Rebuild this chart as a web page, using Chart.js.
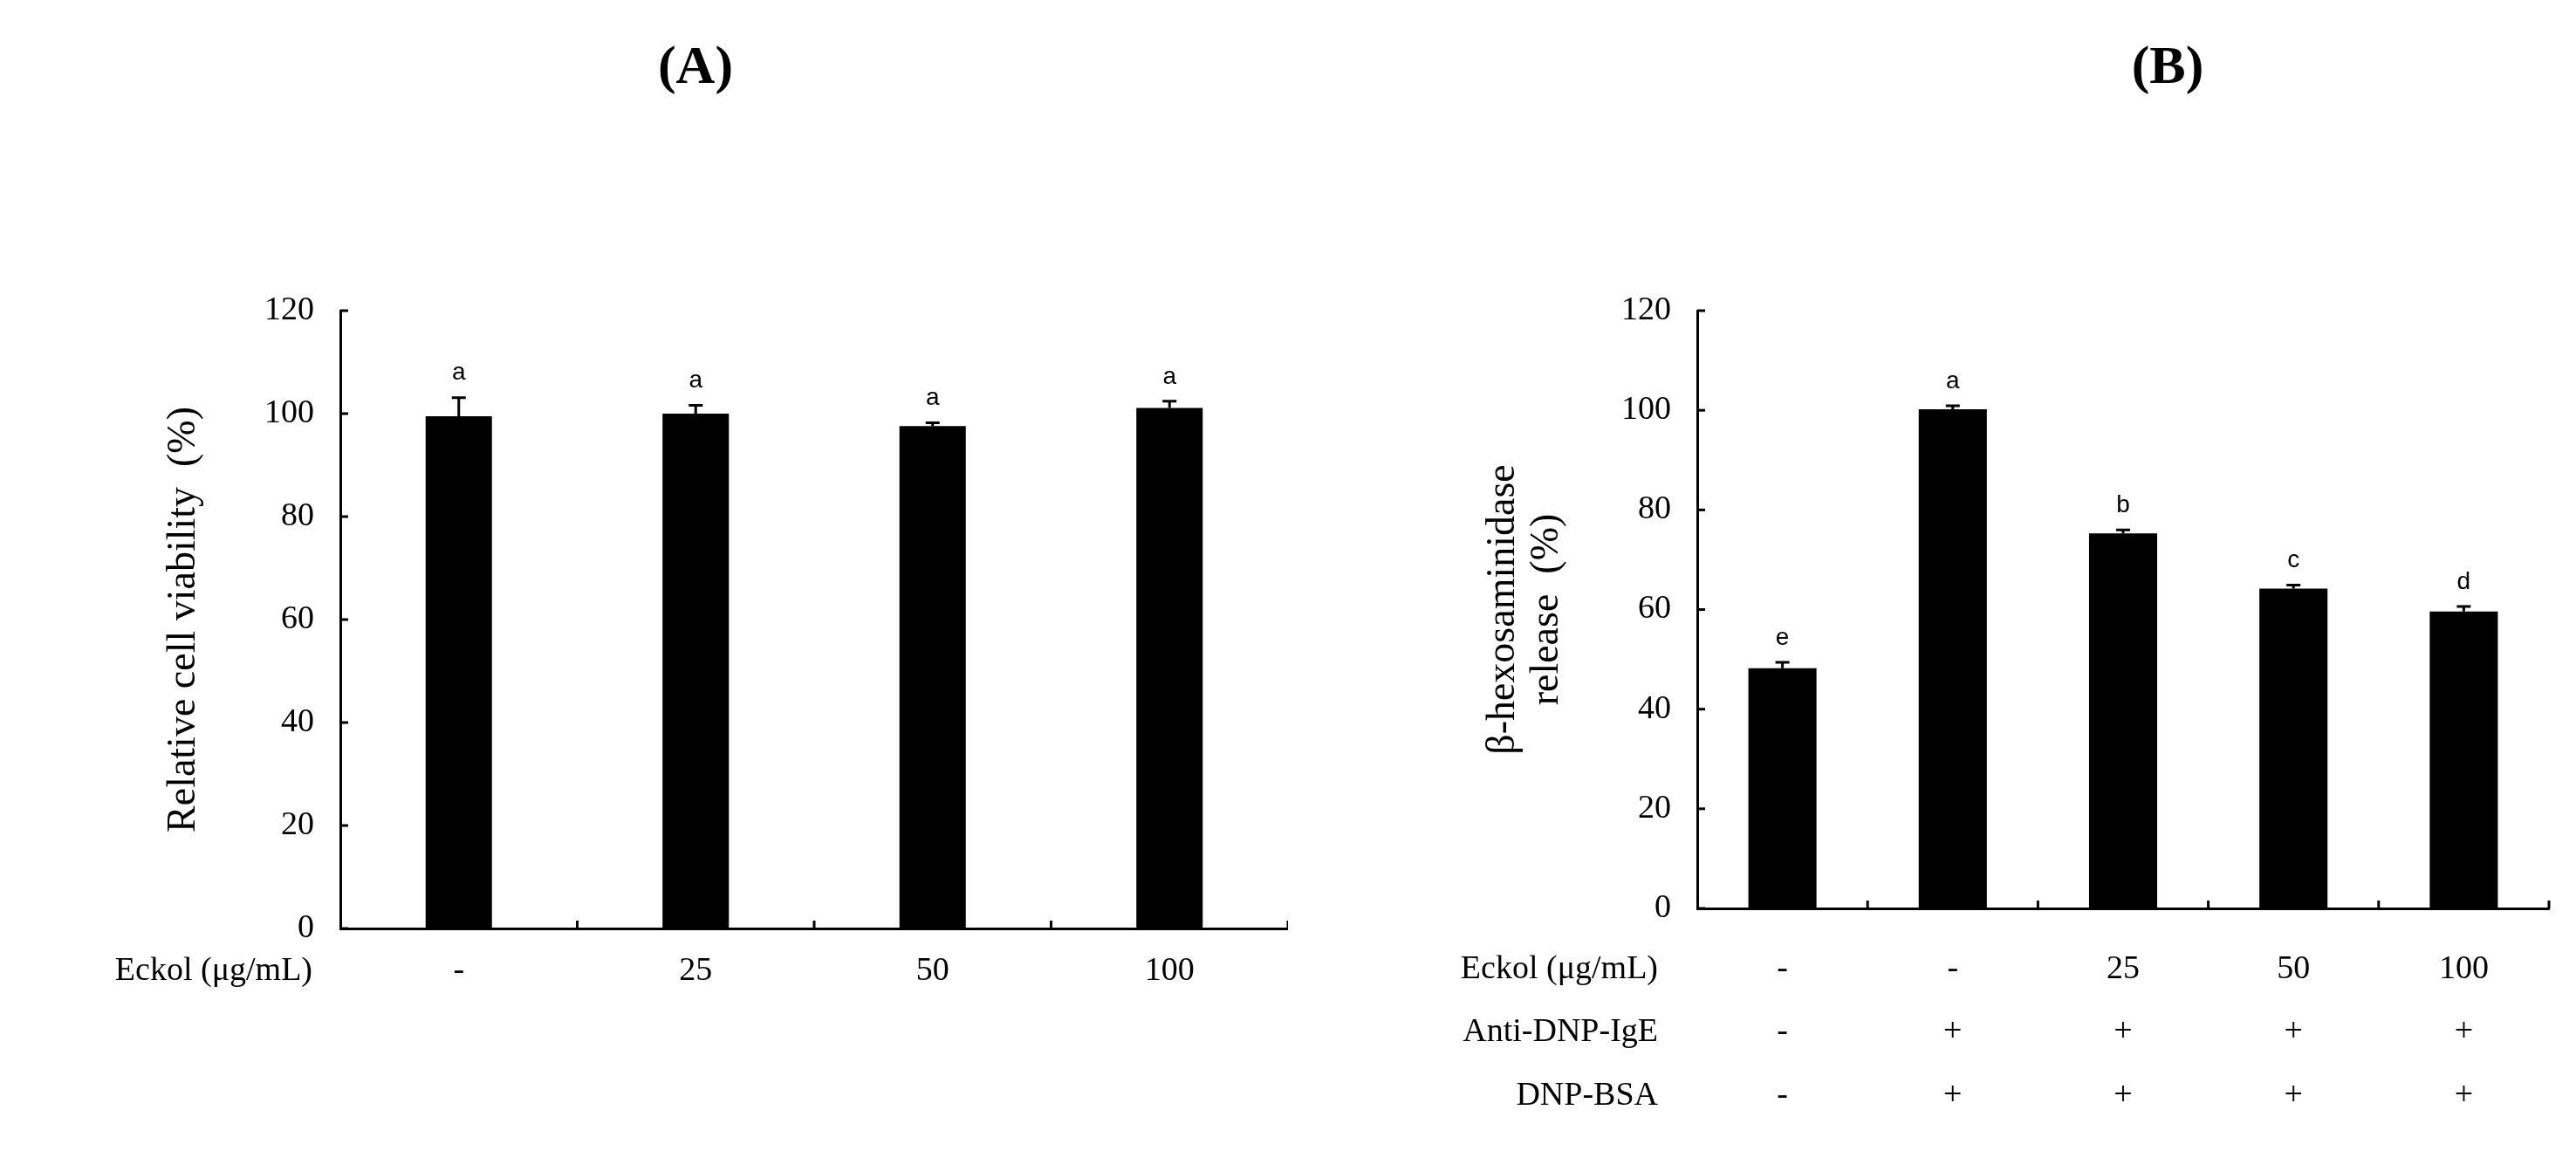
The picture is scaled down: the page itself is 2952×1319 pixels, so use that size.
<!DOCTYPE html>
<html><head><meta charset="utf-8">
<script src="https://cdn.jsdelivr.net/npm/chart.js@4"></script>
<style>body{margin:0;background:#fff}div.c{position:absolute;top:0;width:1476px;height:1319px}</style>
</head><body>
<div class="c" style="left:0"><canvas id="a"></canvas></div>
<div class="c" style="left:1476px"><canvas id="b"></canvas></div>
<script>
const yTicks=[0,20,40,60,80,100,120];
const catsA=['-','25','50','100'];
const valsA=[99.5,100,97.6,101.1];
const errA=[3.6,1.6,0.6,1.3];
const sigA=['a','a','a','a'];
const catsB=['-','-','25','50','100'];
const valsB=[48.2,100.2,75.3,64.2,59.6];
const errB=[1.2,0.7,0.7,0.7,1.0];
const sigB=['e','a','b','c','d'];
const igeB=['-','+','+','+','+'];
const bsaB=['-','+','+','+','+'];
const SERIF='"Liberation Serif","Times New Roman",serif';

function make(id,cats,vals,errs,sigs,o){
  const rows=o.rows;
  new Chart(document.getElementById(id),{
    type:'bar',
    data:{labels:cats,datasets:[{data:vals,backgroundColor:'#000',borderWidth:0,categoryPercentage:1,barPercentage:o.bp}]},
    options:{responsive:true,maintainAspectRatio:false,animation:false,devicePixelRatio:1,
      layout:{padding:{left:0,right:o.pr,top:356,bottom:0}},
      plugins:{legend:{display:false},tooltip:{enabled:false}},
      scales:{
        x:{grid:{display:false},border:{color:'#000',width:3},ticks:{display:false},afterFit:s=>{s.height=o.bh;}},
        y:{min:0,max:120,afterBuildTicks:s=>{s.ticks=yTicks.map(v=>({value:v}));},grid:{display:false},border:{color:'#000',width:3},
           ticks:{color:'#000',font:{family:SERIF,size:38},padding:22},afterFit:s=>{s.width=o.yw;}}
      }},
    plugins:[{id:'extra',afterDatasetsDraw(ch){
      const c=ch.ctx,x=ch.scales.x,y=ch.scales.y,ca=ch.chartArea;
      c.save();c.strokeStyle='#000';c.fillStyle='#000';c.lineWidth=3;
      // ticks inward
      yTicks.forEach(v=>{const p=y.getPixelForValue(v);c.beginPath();c.moveTo(ca.left,p);c.lineTo(ca.left+9,p);c.stroke();});
      for(let i=1;i<=cats.length;i++){const p=(x.getPixelForValue(i-1)+ (i<cats.length?x.getPixelForValue(i):2*x.getPixelForValue(i-1)-x.getPixelForValue(i-2)))/2;
        c.beginPath();c.moveTo(p,ca.bottom);c.lineTo(p,ca.bottom-9);c.stroke();}
      // error bars & letters
      const meta=ch.getDatasetMeta(0);
      vals.forEach((v,i)=>{const px=x.getPixelForValue(i),top=y.getPixelForValue(v+errs[i]);
        c.lineWidth=3;c.beginPath();c.moveTo(px,y.getPixelForValue(v));c.lineTo(px,top);c.moveTo(px-8,top);c.lineTo(px+8,top);c.stroke();
        c.font='28px "Liberation Sans",sans-serif';c.textAlign='center';c.textBaseline='bottom';c.fillText(sigs[i],px,top-14);});
      // row labels
      c.font='38px '+SERIF;c.textBaseline='middle';
      rows.forEach(r=>{c.textAlign='right';c.fillText(r.name,o.rowRight,r.y);c.textAlign='center';
        r.vals.forEach((t,i)=>c.fillText(t,x.getPixelForValue(i),r.y));});
      // titles
      c.font='bold 62px '+SERIF;c.fillText(o.title,o.tx,79);
      c.font='46px '+SERIF;c.translate(o.lx,(ca.top+ca.bottom)/2);c.rotate(-Math.PI/2);
      o.ylab.forEach((t,k)=>c.fillText(t,0,(k-(o.ylab.length-1)/2)*50));
      c.restore();}}]
  });
}
make('a',catsA,valsA,errA,sigA,{bp:0.28,pr:0,bh:255,yw:390,title:'(A)',tx:797,lx:211,rowRight:358,ylab:['Relative cell viability  (%)'],
  rows:[{name:'Eckol (μg/mL)',y:1113,vals:catsA}]});
make('b',catsB,valsB,errB,sigB,{bp:0.4,pr:31,bh:278,yw:469,title:'(B)',tx:1008,lx:272,rowRight:424,ylab:['β-hexosaminidase','release  (%)'],
  rows:[{name:'Eckol (μg/mL)',y:1111,vals:catsB},{name:'Anti-DNP-IgE',y:1183,vals:igeB},{name:'DNP-BSA',y:1256,vals:bsaB}]});
</script></body></html>
